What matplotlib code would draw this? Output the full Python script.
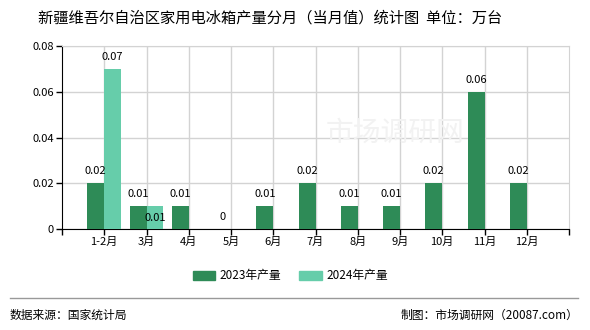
import numpy as np
import matplotlib
matplotlib.use('Agg')
import matplotlib.pyplot as plt
from matplotlib.patches import Rectangle
from matplotlib.lines import Line2D

plt.rcParams['font.family'] = ['Noto Sans CJK SC', 'DejaVu Sans']

# 資料
months = ['1-2月', '3月', '4月', '5月', '6月', '7月', '8月', '9月', '10月', '11月', '12月']
prod_2023 = [0.02, 0.01, 0.01, 0, 0.01, 0.02, 0.01, 0.01, 0.02, 0.06, 0.02]
prod_2024 = [0.07, 0.01]
y_ticks = [0, 0.02, 0.04, 0.06, 0.08]
y_tick_labels = ['0', '0.02', '0.04', '0.06', '0.08']

c2023 = '#2e8b57'
c2024 = '#66cdaa'

fig = plt.figure(figsize=(5.9, 3.3), dpi=100)
ax = fig.add_axes([62 / 590, (330 - 229) / 330, (569 - 62) / 590, (229 - 46) / 330])

x = np.arange(1, len(months) + 1)
x24 = x[:len(prod_2024)]
w = 0.4

ax.bar(x - w / 2, prod_2023, width=w, color=c2023, zorder=3)
ax.bar(x24 + w / 2, prod_2024, width=w, color=c2024, zorder=3)

# 數值標籤
for xi, v in zip(x, prod_2023):
    ax.annotate(f'{v:g}', (xi - w / 2, v), xytext=(0, 5), textcoords='offset points',
                ha='center', va='bottom', fontsize=8)
for i, (xi, v) in enumerate(zip(x24, prod_2024)):
    off = 5 if i == 0 else -12
    ax.annotate(f'{v:g}', (xi + w / 2, v), xytext=(0, off), textcoords='offset points',
                ha='center', va='bottom', fontsize=8)

ax.set_xlim(0, 12)
ax.set_ylim(0, 0.08)
ax.set_xticks(list(x))
ax.set_xticklabels(months, fontsize=8)
ax.set_xticks([0, 12], minor=True)
ax.set_yticks(y_ticks)
ax.set_yticklabels(y_tick_labels, fontsize=8)

ax.grid(True, color='#d3d3d3', linewidth=1, zorder=0)
for s in ['top', 'right']:
    ax.spines[s].set_color('#d3d3d3')
ax.spines['left'].set_color('black')
ax.spines['bottom'].set_color('black')
ax.tick_params(axis='both', which='both', length=4, width=1, color='black', pad=2)
ax.tick_params(axis='x', which='minor', length=4)

# 標題
fig.text(38 / 590, 1 - 18 / 330, '新疆维吾尔自治区家用电冰箱产量分月（当月值）统计图  单位：万台',
         ha='left', va='center', fontsize=11, fontweight='medium')

# 圖例
handles = [Rectangle((0, 0), 1, 1, color=c2023), Rectangle((0, 0), 1, 1, color=c2024)]
fig.legend(handles, ['2023年产量', '2024年产量'], loc='center', bbox_to_anchor=(0.492, 1 - 276 / 330),
           ncol=2, frameon=False, fontsize=8.5, handlelength=1.9, handleheight=0.7,
           columnspacing=1.5, handletextpad=0.4)

# 浮水印
fig.text(0.67, 1 - 133 / 330, '市场调研网', ha='center', va='center', fontsize=20,
         color='#f2f2f2', zorder=0)

# 底部
fig.add_artist(Line2D([10 / 590, 578 / 590], [1 - 298 / 330, 1 - 298 / 330], color='#999999', linewidth=1))
fig.text(10 / 590, 1 - 315 / 330, '数据来源：国家统计局', ha='left', va='center', fontsize=8.5)
fig.text(578 / 590, 1 - 315 / 330, '制图：市场调研网（20087.com）', ha='right', va='center', fontsize=8.5)

fig.savefig('out.png', dpi=100)
